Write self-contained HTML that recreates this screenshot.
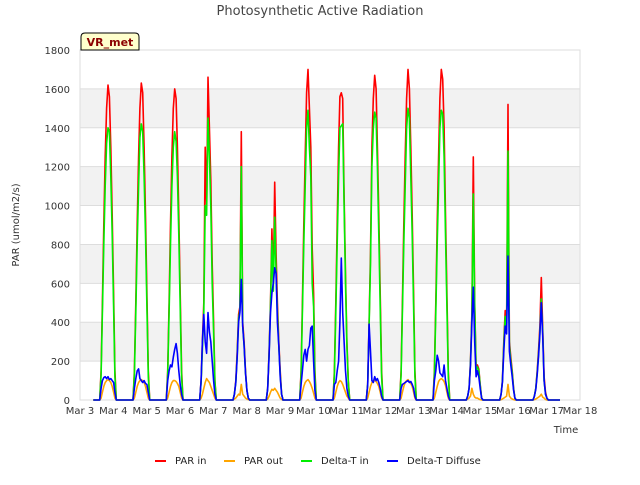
<!DOCTYPE html>
<html><head><meta charset="utf-8"><style>
body{margin:0;background:#fff;font-family:"Liberation Sans",sans-serif}
svg text{font-family:"DejaVu Sans","Liberation Sans",sans-serif}
</style></head><body>
<svg id="c" width="640" height="480" viewBox="0 0 640 480" xmlns="http://www.w3.org/2000/svg">
<rect x="0" y="0" width="640" height="480" fill="#fff"/>
<g id="bands"></g><g id="grid"></g>
<rect x="80" y="50" width="500" height="350" fill="none" stroke="#ddd"/>
<g id="series"></g><g id="axes"></g>
<text x="320" y="15" text-anchor="middle" font-size="13" fill="#444">Photosynthetic Active Radiation</text>
<text transform="translate(19,225) rotate(-90)" text-anchor="middle" font-size="10" fill="#333">PAR (umol/m2/s)</text>
<text x="566" y="433" text-anchor="middle" font-size="10" fill="#333">Time</text>
<g>
<path d="M81,50 L81,37 Q81,33 85,33 L135,33 Q139,33 139,37 L139,50 Z" fill="#ffffcc" stroke="#000"/>
<text x="110" y="46" text-anchor="middle" font-size="11" font-weight="bold" fill="#8b0000">VR_met</text></g>
<g id="legend"></g>
</svg>
<script>
const yTicks=[0,200,400,600,800,1000,1200,1400,1600,1800];
const xTickLabels=["Mar 3","Mar 4","Mar 5","Mar 6","Mar 7","Mar 8","Mar 9","Mar 10","Mar 11","Mar 12","Mar 13","Mar 14","Mar 15","Mar 16","Mar 17","Mar 18"];
const hourOffsets=[-6,-5,-4,-3,-2,-1,0,1,2,3,4,5,6];
const dayCenters=[0.84,1.84,2.84,3.84,4.84,5.84,6.84,7.84,8.84,9.84,10.84,11.84,12.84,13.84];
const parIn=[
[0,150,500,900,1250,1500,1620,1560,1300,950,550,150,0],
[0,150,500,900,1250,1500,1630,1580,1300,950,550,150,0],
[0,150,500,900,1250,1500,1600,1550,1300,950,550,150,0],
[0,100,300,500,1300,980,1660,1400,1130,700,400,100,0],
[0,30,100,250,440,480,1380,400,300,150,50,10,0],
[0,60,250,500,880,600,1120,750,500,300,150,30,0],
[0,150,500,900,1250,1580,1700,1500,1300,780,550,150,0],
[0,150,500,900,1300,1560,1580,1550,1050,650,300,100,0],
[0,80,400,750,1300,1550,1670,1600,1300,950,550,150,0],
[0,150,500,900,1250,1550,1700,1600,1300,950,550,150,0],
[0,150,500,900,1250,1550,1700,1650,1400,950,550,150,0],
[0,20,60,200,450,1250,500,160,180,160,80,10,0],
[0,30,100,300,460,380,1520,300,220,150,60,10,0],
[0,20,60,150,260,380,630,370,120,40,10,0,0]];
const parOut=[
[0,10,40,70,90,100,105,100,90,70,40,10,0],
[0,10,40,70,90,100,105,100,90,70,40,10,0],
[0,10,40,70,90,100,100,95,85,70,40,10,0],
[0,10,30,60,90,110,100,90,70,50,30,10,0],
[0,5,10,20,30,25,80,30,20,10,5,2,0],
[0,5,20,40,55,50,60,50,40,25,10,3,0],
[0,10,40,70,90,100,105,95,80,60,35,10,0],
[0,10,40,70,90,100,95,80,60,40,20,10,0],
[0,10,40,70,90,100,100,95,85,70,40,10,0],
[0,10,40,70,90,100,105,95,85,70,40,10,0],
[0,10,40,70,95,105,110,105,95,75,40,10,0],
[0,5,10,20,60,30,15,10,10,5,2,0,0],
[0,2,5,10,15,20,80,20,10,5,2,0,0],
[0,2,5,10,15,20,30,15,10,3,0,0,0]];
const deltaTIn=[
[0,130,450,800,1100,1320,1400,1380,1150,850,480,120,0],
[0,130,450,800,1100,1350,1420,1380,1150,850,480,120,0],
[0,130,450,800,1100,1300,1380,1330,1150,850,480,120,0],
[0,90,260,450,1000,950,1450,1250,1000,600,350,90,0],
[0,30,90,230,420,460,1200,380,280,140,50,10,0],
[0,60,240,480,820,560,940,650,450,280,130,30,0],
[0,130,450,800,1100,1400,1490,1300,1150,600,480,120,0],
[0,130,450,800,1150,1400,1410,1420,1000,600,280,90,0],
[0,80,380,700,1200,1400,1480,1450,1200,850,480,120,0],
[0,130,450,800,1100,1400,1500,1450,1150,850,480,120,0],
[0,130,450,800,1100,1400,1490,1470,1250,850,480,120,0],
[0,20,60,190,430,1060,480,150,170,150,75,10,0],
[0,30,95,280,430,360,1280,280,200,140,55,10,0],
[0,20,60,140,240,350,520,350,100,30,10,0,0]];
const diffuse=[
[0,60,100,115,120,110,120,105,110,100,90,40,0],
[0,60,110,150,160,110,100,90,100,85,80,40,0],
[0,100,150,180,170,220,260,290,240,150,80,30,0],
[0,100,300,440,300,240,450,350,300,200,100,30,0],
[0,30,90,220,400,450,620,380,280,140,50,10,0],
[0,60,230,450,550,600,680,650,400,280,120,30,0],
[0,80,150,230,260,200,260,280,370,380,200,50,0],
[0,80,90,150,200,400,730,450,300,150,60,20,0],
[0,80,390,250,100,90,120,100,110,90,60,20,0],
[0,60,80,85,90,95,100,90,95,80,60,20,0],
[0,100,150,230,200,140,130,120,180,100,60,20,0],
[0,20,60,180,400,580,300,120,150,120,60,10,0],
[0,30,90,250,380,340,740,250,180,120,50,10,0],
[0,20,55,130,230,340,500,330,100,30,10,0,0]];
const NS="http://www.w3.org/2000/svg";
const X0=80,X1=580,Y0=400,Y1=50;
function xS(d){return X0+d*(X1-X0)/15;}
function yS(v){return Y0-v*(Y0-Y1)/1800;}
function mk(t,a,p){const e=document.createElementNS(NS,t);for(const k in a)e.setAttribute(k,a[k]);p.appendChild(e);return e;}
const bands=document.getElementById('bands'),grid=document.getElementById('grid'),axes=document.getElementById('axes');
for(let i=0;i<yTicks.length-1;i++){if(i%2===1){const b=mk('rect',{x:X0,y:yS(yTicks[i+1]),width:X1-X0,height:yS(yTicks[i])-yS(yTicks[i+1]),fill:'#f2f2f2'},bands);

}}
yTicks.forEach(v=>{const l=mk('line',{x1:X0,x2:X1,y1:yS(v),y2:yS(v),stroke:'#ddd'},grid);


const t=mk('text',{x:X0-10,y:yS(v)+4,'text-anchor':'end','font-size':10,fill:'#333'},axes);t.textContent=v;

});
xTickLabels.forEach((s,i)=>{const t=mk('text',{x:xS(i),y:414,'text-anchor':'middle','font-size':10,fill:'#333'},axes);t.textContent=s;

});
const ser=document.getElementById('series');
function draw(vals,color,name){let pts=[[xS(0.4),yS(0)]];
vals.forEach((day,i)=>{day.forEach((v,j)=>{pts.push([xS(dayCenters[i]+hourOffsets[j]/24),yS(v)]);});});
pts.push([xS(14.4),yS(0)]);
const p=mk('polyline',{points:pts.map(q=>q[0].toFixed(1)+','+q[1].toFixed(1)).join(' '),fill:'none',stroke:color,'stroke-width':1.6,'stroke-linejoin':'round'},ser);

}
draw(parIn,'#ff0000','par-in-line');
draw(parOut,'#ffa500','par-out-line');
draw(deltaTIn,'#00ee00','delta-t-in-line');
draw(diffuse,'#0000ff','delta-t-diffuse-line');
const leg=document.getElementById('legend');
[['PAR in','#ff0000',155],['PAR out','#ffa500',224],['Delta-T in','#00ee00',301],['Delta-T Diffuse','#0000ff',387]].forEach(e=>{
const g=mk('g',{},leg);


mk('line',{x1:e[2],x2:e[2]+11,y1:461,y2:461,stroke:e[1],'stroke-width':2},g);
const t=mk('text',{x:e[2]+20,y:464,'font-size':10,fill:'#222'},g);t.textContent=e[0];});
</script>
</body></html>
